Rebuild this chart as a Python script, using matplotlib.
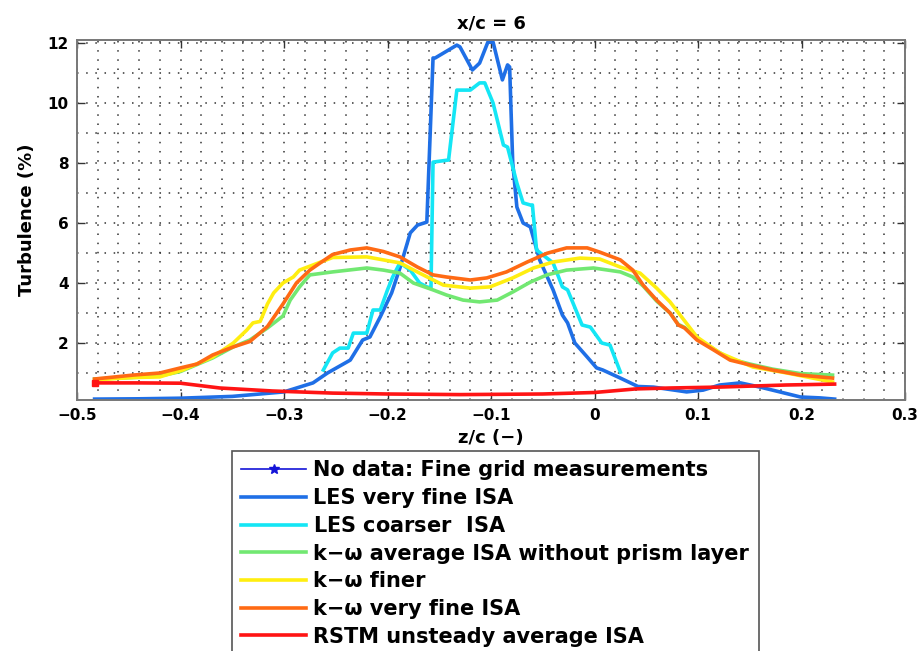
import matplotlib
matplotlib.use("Agg")
import matplotlib.pyplot as plt
from matplotlib.ticker import MultipleLocator, FixedLocator

# ---------------- data ----------------
les_vf_x = [-0.483, -0.44, -0.40, -0.35, -0.30, -0.272, -0.258, -0.236, -0.224, -0.217, -0.207, -0.196,
            -0.188, -0.178, -0.171, -0.162, -0.156, -0.154, -0.133, -0.130, -0.118, -0.111, -0.103,
            -0.098, -0.089, -0.084, -0.082, -0.079, -0.075, -0.069, -0.062, -0.053, -0.040, -0.031,
            -0.026, -0.019, -0.007, 0.002, 0.008, 0.025, 0.042, 0.057, 0.089, 0.105, 0.121, 0.141,
            0.160, 0.179, 0.199, 0.218, 0.232]
les_vf_y = [0.13, 0.14, 0.16, 0.22, 0.37, 0.67, 1.0, 1.43, 2.1, 2.2, 2.87, 3.67,
            4.5, 5.67, 5.93, 6.03, 11.5, 11.5, 11.93, 11.87, 11.1, 11.33, 12.03,
            12.03, 10.77, 11.27, 11.2, 8.0, 6.53, 6.0, 5.87, 4.77, 3.77, 2.93,
            2.67, 2.0, 1.53, 1.17, 1.1, 0.83, 0.55, 0.53, 0.37, 0.43, 0.6, 0.67,
            0.53, 0.37, 0.2, 0.17, 0.13]

les_c_x = [-0.262, -0.253, -0.246, -0.238, -0.233, -0.220, -0.214, -0.207, -0.200, -0.195, -0.188,
           -0.178, -0.169, -0.162, -0.158, -0.156, -0.141, -0.133, -0.120, -0.111, -0.106, -0.098,
           -0.088, -0.084, -0.075, -0.069, -0.062, -0.060, -0.056, -0.040, -0.031, -0.026, -0.012,
           -0.004, 0.007, 0.015, 0.025]
les_c_y = [1.1, 1.67, 1.83, 1.83, 2.33, 2.33, 3.1, 3.1, 3.77, 4.2, 4.67,
           4.43, 4.0, 3.87, 3.83, 8.03, 8.1, 10.43, 10.43, 10.67, 10.67, 10.0,
           8.6, 8.53, 7.33, 6.67, 6.6, 6.6, 5.1, 4.67, 3.87, 3.77, 2.6,
           2.53, 2.0, 1.93, 1.03]

kw_avg_x = [-0.483, -0.446, -0.420, -0.400, -0.369, -0.349, -0.333, -0.316, -0.301, -0.294, -0.285,
            -0.275, -0.253, -0.220, -0.204, -0.188, -0.175, -0.156, -0.143, -0.127, -0.111, -0.094,
            -0.079, -0.062, -0.046, -0.027, -0.001, 0.025, 0.037, 0.047, 0.060, 0.073, 0.081, 0.087,
            0.099, 0.115, 0.131, 0.150, 0.172, 0.199, 0.230]
kw_avg_y = [0.8, 0.85, 0.9, 1.05, 1.5, 1.87, 2.1, 2.5, 2.9, 3.43, 3.87,
            4.27, 4.37, 4.5, 4.43, 4.33, 4.0, 3.77, 3.6, 3.43, 3.37, 3.43,
            3.7, 4.03, 4.27, 4.43, 4.5, 4.37, 4.2, 3.9, 3.4, 3.0, 2.62, 2.52,
            2.15, 1.8, 1.47, 1.3, 1.13, 0.98, 0.93]

kw_finer_x = [-0.483, -0.446, -0.420, -0.398, -0.369, -0.349, -0.336, -0.330, -0.323, -0.316, -0.310,
              -0.301, -0.291, -0.285, -0.272, -0.253, -0.220, -0.188, -0.169, -0.146, -0.120, -0.101,
              -0.079, -0.059, -0.040, -0.014, 0.005, 0.025, 0.044, 0.060, 0.073, 0.085, 0.099, 0.121,
              0.153, 0.186, 0.230]
kw_finer_y = [0.77, 0.85, 0.87, 1.1, 1.53, 2.0, 2.43, 2.67, 2.72, 3.3, 3.67,
              4.0, 4.2, 4.43, 4.6, 4.85, 4.87, 4.67, 4.33, 3.93, 3.83, 3.87,
              4.17, 4.5, 4.7, 4.83, 4.8, 4.53, 4.33, 3.83, 3.37, 2.83, 2.2, 1.67,
              1.2, 1.0, 0.7]

kw_vf_x = [-0.483, -0.446, -0.420, -0.400, -0.384, -0.369, -0.349, -0.333, -0.316, -0.301, -0.288,
           -0.275, -0.265, -0.253, -0.236, -0.220, -0.204, -0.188, -0.171, -0.156, -0.143, -0.120,
           -0.104, -0.085, -0.065, -0.046, -0.027, -0.007, 0.005, 0.025, 0.037, 0.047, 0.060, 0.073,
           0.081, 0.087, 0.099, 0.115, 0.131, 0.150, 0.172, 0.199, 0.230]
kw_vf_y = [0.8, 0.93, 1.0, 1.17, 1.3, 1.6, 1.87, 2.05, 2.55, 3.3, 4.0,
           4.43, 4.67, 4.95, 5.1, 5.17, 5.05, 4.87, 4.53, 4.27, 4.2, 4.1,
           4.17, 4.37, 4.7, 4.99, 5.17, 5.17, 5.03, 4.77, 4.43, 3.93, 3.43, 3.0,
           2.6, 2.5, 2.1, 1.77, 1.43, 1.27, 1.1, 0.93, 0.83]

rstm_x = [-0.483, -0.44, -0.40, -0.362, -0.311, -0.253, -0.20, -0.13, -0.05, 0.0, 0.04, 0.073,
          0.12, 0.185, 0.232]
rstm_y = [0.67, 0.67, 0.66, 0.5, 0.4, 0.33, 0.3, 0.28, 0.3, 0.35, 0.47, 0.5,
          0.53, 0.6, 0.63]

labels = ["No data: Fine grid measurements",
          "LES very fine ISA",
          r"LES $\mathregular{coarser}$  ISA",
          "k\u2212\u03c9 average ISA without prism layer",
          "k\u2212\u03c9 finer",
          "k\u2212\u03c9 very fine ISA",
          "RSTM unsteady average ISA"]

x_ticks = [-0.5, -0.4, -0.3, -0.2, -0.1, 0.0, 0.1, 0.2, 0.3]
x_ticklabels = ["\u22120.5", "\u22120.4", "\u22120.3", "\u22120.2", "\u22120.1", "0", "0.1", "0.2", "0.3"]
y_ticks = [2, 4, 6, 8, 10, 12]
y_ticklabels = ["2", "4", "6", "8", "10", "12"]

# ---------------- figure ----------------
plt.rcParams['font.family'] = ['DejaVu Sans']
plt.rcParams['font.weight'] = 'bold'
plt.rcParams['mathtext.fontset'] = 'dejavusans'

fig = plt.figure(figsize=(9.23, 6.51), dpi=100)
ax = fig.add_axes([77 / 923, 1 - 400 / 651, 828 / 923, 360 / 651])

lw = 2.6
ax.plot([], [], '-*', color='#1414d8', lw=1.2, ms=7, label=labels[0])
ax.plot(les_vf_x, les_vf_y, color='#1f6fe6', lw=lw, label=labels[1])
ax.plot(les_c_x, les_c_y, color='#14e6f5', lw=lw, label=labels[2])
ax.plot(kw_avg_x, kw_avg_y, color='#72e872', lw=lw, label=labels[3])
ax.plot(kw_finer_x, kw_finer_y, color='#ffee10', lw=lw, label=labels[4])
ax.plot(kw_vf_x, kw_vf_y, color='#ff6a14', lw=lw, label=labels[5])
ax.plot(rstm_x, rstm_y, color='#ff1414', lw=lw, label=labels[6])
ax.plot(rstm_x[:1], rstm_y[:1], 's', color='#ff1414', ms=5)

ax.set_xlim(-0.5, 0.3)
ax.set_ylim(0.1, 12.1)
ax.xaxis.set_major_locator(FixedLocator(x_ticks))
ax.set_xticklabels(x_ticklabels)
ax.yaxis.set_major_locator(FixedLocator(y_ticks))
ax.set_yticklabels(y_ticklabels)
ax.xaxis.set_minor_locator(MultipleLocator(0.02))
ax.yaxis.set_minor_locator(MultipleLocator(1))

ax.grid(True, which='both', color='#333333', linestyle=(0, (1, 5)), linewidth=1.1)
ax.tick_params(which='major', direction='in', length=6, width=1.0, top=True, right=True,
               labelsize=11, pad=6, color='#333333')
ax.tick_params(which='minor', length=0, top=True, right=True)
for lab in ax.get_xticklabels() + ax.get_yticklabels():
    lab.set_fontweight('bold')
for sp in ax.spines.values():
    sp.set_color('#777777')
    sp.set_linewidth(1.4)

ax.set_title("x/c = 6", fontsize=13, fontweight='bold', pad=8)
ax.set_xlabel("z/c (\u2212)", fontsize=13, fontweight='bold', labelpad=4)
ax.set_ylabel("Turbulence (%)", fontsize=13, fontweight='bold', labelpad=8)

leg = ax.legend(loc='upper left', bbox_to_anchor=(232 / 923, 1 - 451 / 651),
                bbox_transform=fig.transFigure, borderaxespad=0,
                prop={'weight': 'bold', 'size': 15}, frameon=True, fancybox=False,
                handlelength=3.1, handletextpad=0.35, labelspacing=0.37, borderpad=0.45,
                edgecolor='#555555', framealpha=1)
leg.get_frame().set_linewidth(1.2)

fig.savefig("out.png", dpi=100)
